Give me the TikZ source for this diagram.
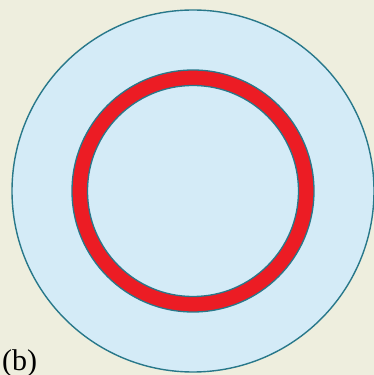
\documentclass[tikz,border=0pt]{standalone}
\usepackage{fontspec}
\setmainfont{Liberation Serif}
\definecolor{paper}{RGB}{238,238,222}
\definecolor{skyfill}{RGB}{212,235,247}
\definecolor{rimline}{RGB}{40,120,138}
\definecolor{ringred}{RGB}{236,28,36}
\begin{document}
\begin{tikzpicture}[x=1pt,y=1pt]
    % Background
    \fill[paper] (0,0) rectangle (374,375);
    \useasboundingbox (0,0) rectangle (374,375);

    % Outer disc (light blue)
    \coordinate (O) at (193,184);
    \draw[rimline, line width=1.4pt, fill=skyfill] (O) circle (181);

    % Red ring
    \draw[rimline, line width=1.3pt, fill=ringred, even odd rule]
        (O) circle (121) (O) circle (105.5);

    % Label
    \node[anchor=base west, inner sep=0pt, font=\fontsize{30}{36}\selectfont]
        (lbl) at (2,5) {(b)};
\end{tikzpicture}
\end{document}
